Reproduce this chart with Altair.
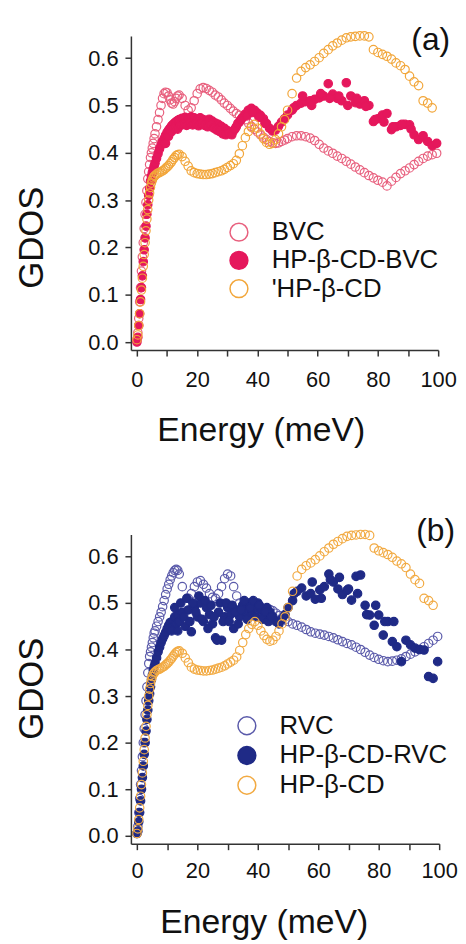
import altair as alt
import pandas as pd

FONT = "Liberation Sans"

# Shared energy grid (meV)
E_GRID = [0.0, 0.3, 0.6, 0.9, 1.2, 1.5, 1.8, 2.1, 2.4, 2.7,
          3.0, 3.3, 3.6, 3.9, 4.2, 4.5, 4.8, 5.1, 5.4, 5.7,
          6.0, 6.5, 7.0, 7.5, 8.0, 8.5, 9.0, 9.5, 10.0, 10.5,
          11.0, 11.5, 12.0, 12.5, 13.0, 13.5, 14.0, 15, 16, 17,
          18, 19, 20, 21, 22, 23, 24, 25, 26, 27,
          28, 29, 30, 31, 32, 33, 34, 35, 36, 37,
          38, 39, 40, 41, 42, 43, 44, 45, 46, 47,
          48, 49, 50, 51.5, 53, 54.5, 56, 57.5, 59, 60.5,
          62, 63.5, 65, 66.5, 68, 69.5, 71, 72.5, 74, 75.5,
          77, 78.5, 80, 81.5, 83, 84.5, 86, 87.5, 89, 90.5,
          92, 93.5, 95, 96.5, 98, 99.5]

BVC = [0.005, 0.02, 0.05, 0.085, 0.115, 0.15, 0.18, 0.21, 0.24, 0.27,
       0.295, 0.32, 0.345, 0.36, 0.375, 0.39, 0.40, 0.41, 0.42, 0.43,
       0.44, 0.455, 0.47, 0.485, 0.50, 0.515, 0.525, 0.528, 0.527, 0.52,
       0.512, 0.505, 0.503, 0.508, 0.515, 0.52, 0.522, 0.515, 0.50, 0.49,
       0.495, 0.51, 0.525, 0.535, 0.538, 0.536, 0.532, 0.528, 0.522, 0.518,
       0.512, 0.505, 0.50, 0.494, 0.488, 0.483, 0.479, 0.475, 0.47, 0.463,
       0.456, 0.45, 0.444, 0.438, 0.433, 0.428, 0.424, 0.421, 0.42, 0.421,
       0.424, 0.427, 0.43, 0.434, 0.436, 0.436, 0.434, 0.431, 0.426, 0.418,
       0.41, 0.404, 0.399, 0.393, 0.388, 0.382, 0.376, 0.37, 0.364, 0.358,
       0.352, 0.347, 0.342, 0.338, 0.33, 0.34, 0.348, 0.356, 0.362, 0.368,
       0.375, 0.382, 0.388, 0.393, 0.396, 0.399]

HPCD_BVC = [0.0, 0.01, 0.035, 0.06, 0.09, 0.115, 0.14, 0.17, 0.195, 0.22,
            0.245, 0.27, 0.29, 0.31, 0.325, 0.34, 0.35, 0.358, 0.365, 0.372,
            0.378, 0.388, 0.398, 0.408, 0.416, 0.424, 0.43, 0.437, 0.443, 0.448,
            0.452, 0.457, 0.46, 0.463, 0.466, 0.468, 0.47, 0.473, 0.475, 0.472,
            0.476, 0.474, 0.471, 0.474, 0.47, 0.468, 0.471, 0.467, 0.463, 0.46,
            0.456, 0.452, 0.447, 0.443, 0.446, 0.455, 0.465, 0.474, 0.482, 0.49,
            0.494, 0.49, 0.484, 0.479, 0.472, 0.462, 0.452, 0.446, 0.448, 0.456,
            0.465, 0.472, 0.48, 0.49, 0.5, 0.505, 0.508, 0.51, 0.513, 0.516,
            0.52, 0.546, 0.524, 0.515, 0.51, 0.548, 0.52, 0.506, 0.503, 0.51,
            0.5, 0.466, 0.472, 0.48, 0.483, 0.449, 0.455, 0.458, 0.46, 0.459,
            0.438, 0.428, 0.436, 0.424, 0.415, 0.42]
HPCD_BVC_EXTRA_E = [9.5, 10.5, 11.5, 12.5, 13.5, 14.5, 15.5, 16.5, 17.5, 18.5,
                    19.5, 20.5, 21.5, 22.5, 23.5, 24.5, 25.5, 26.5, 27.5, 28.5,
                    29.5, 30.5, 31.5, 32.5, 33.5, 34.5, 36.5, 38.5, 40.5, 42.5,
                    52, 55, 58, 61, 64, 67, 70, 73, 76, 79, 82, 85, 88, 91]
HPCD_BVC_EXTRA_G = [0.42, 0.435, 0.445, 0.452, 0.45, 0.458, 0.46, 0.458, 0.462, 0.459,
                    0.46, 0.457, 0.462, 0.458, 0.455, 0.46, 0.452, 0.448, 0.445, 0.44,
                    0.438, 0.442, 0.438, 0.45, 0.462, 0.47, 0.478, 0.485, 0.475, 0.462,
                    0.495, 0.52, 0.5, 0.525, 0.515, 0.52, 0.5, 0.515, 0.498, 0.47,
                    0.465, 0.455, 0.46, 0.45]

HPCD = [0.005, 0.015, 0.035, 0.06, 0.085, 0.11, 0.135, 0.16, 0.185, 0.21,
        0.235, 0.26, 0.28, 0.30, 0.315, 0.327, 0.336, 0.342, 0.347, 0.35,
        0.352, 0.355, 0.357, 0.358, 0.36, 0.362, 0.364, 0.367, 0.37, 0.373,
        0.377, 0.381, 0.386, 0.39, 0.394, 0.396, 0.397, 0.392, 0.382, 0.372,
        0.362, 0.358, 0.356, 0.355, 0.354, 0.354, 0.355, 0.356, 0.358, 0.36,
        0.362, 0.365, 0.369, 0.373, 0.377, 0.384, 0.398, 0.415, 0.432, 0.445,
        0.454, 0.46, 0.452, 0.44, 0.43, 0.422, 0.418, 0.42, 0.428, 0.44,
        0.455, 0.47, 0.49, 0.525, 0.558, 0.572, 0.58, 0.586, 0.593, 0.601,
        0.61, 0.618, 0.626, 0.632, 0.638, 0.643, 0.645, 0.646, 0.647, 0.647,
        0.645, 0.618, 0.612, 0.608, 0.604, 0.598, 0.59, 0.584, 0.576, 0.562,
        0.55, 0.542, 0.51, 0.505, 0.495, None]

RVC = [0.005, 0.02, 0.05, 0.08, 0.11, 0.14, 0.17, 0.2, 0.23, 0.26,
       0.29, 0.32, 0.35, 0.37, 0.385, 0.395, 0.405, 0.415, 0.425, 0.435,
       0.44, 0.45, 0.46, 0.47, 0.48, 0.492, 0.505, 0.518, 0.53, 0.54,
       0.55, 0.558, 0.565, 0.57, 0.572, 0.57, 0.562, 0.535, 0.5, 0.51,
       0.52, 0.535, 0.545, 0.548, 0.54, 0.532, 0.52, 0.512, 0.51, 0.52,
       0.535, 0.552, 0.562, 0.558, 0.535, 0.515, 0.5, 0.495, 0.493, 0.49,
       0.488, 0.49, 0.492, 0.49, 0.488, 0.487, 0.486, 0.483, 0.478, 0.473,
       0.468, 0.464, 0.46, 0.455, 0.452, 0.448, 0.443, 0.438, 0.435, 0.433,
       0.431, 0.428, 0.425, 0.421, 0.417, 0.413, 0.41, 0.405, 0.4, 0.394,
       0.388, 0.383, 0.379, 0.376, 0.374, 0.375, 0.377, 0.38, 0.385, 0.39,
       0.395, 0.4, 0.406, 0.413, 0.42, 0.428]

HPCD_RVC = [0.005, 0.01, 0.03, 0.05, 0.075, 0.1, 0.125, 0.15, 0.175, 0.2,
            0.225, 0.25, 0.27, 0.29, 0.305, 0.32, 0.335, 0.345, 0.355, 0.363,
            0.37, 0.382, 0.395, 0.405, 0.415, 0.423, 0.43, 0.437, 0.445, 0.452,
            0.458, 0.448, 0.462, 0.47, 0.455, 0.475, 0.46, 0.48, 0.45, 0.485,
            0.438, 0.49, 0.47, 0.5, 0.46, 0.49, 0.475, 0.455, 0.425, 0.48,
            0.42, 0.47, 0.49, 0.475, 0.445, 0.485, 0.47, 0.495, 0.48, 0.5,
            0.475, 0.49, 0.5, 0.485, 0.47, 0.49, 0.48, 0.47, 0.46, 0.455,
            0.465, 0.475, 0.49, 0.505, 0.525, 0.532, 0.515, 0.52, 0.508, 0.528,
            0.535, 0.562, 0.545, 0.53, 0.518, 0.527, 0.506, 0.557, 0.56, 0.495,
            0.474, 0.452, 0.474, 0.431, 0.46, 0.417, 0.406, 0.374, 0.42, 0.41,
            0.403, 0.4, 0.399, 0.342, 0.338, 0.374]
HPCD_RVC_EXTRA_E = [11.5, 12.5, 13.5, 14.5, 15.5, 16.5, 17.5, 18.5, 19.5, 20.5,
                    21.5, 22.5, 23.5, 24.5, 25.5, 26.5, 27.5, 28.5, 29.5, 30.5,
                    31.5, 32.5, 33.5, 34.5, 35.5, 36.5, 37.5, 38.5, 39.5, 40.5,
                    41.5, 42.5, 43.5, 44.5, 52, 58, 61, 64, 67, 70, 73, 76, 79, 82, 85]
HPCD_RVC_EXTRA_G = [0.44, 0.49, 0.44, 0.5, 0.47, 0.51, 0.46, 0.5, 0.48, 0.515,
                    0.465, 0.505, 0.445, 0.495, 0.47, 0.42, 0.5, 0.46, 0.5, 0.46,
                    0.495, 0.48, 0.455, 0.485, 0.505, 0.465, 0.49, 0.505, 0.47, 0.495,
                    0.465, 0.48, 0.46, 0.47, 0.52, 0.545, 0.51, 0.55, 0.555, 0.53,
                    0.52, 0.475, 0.495, 0.46, 0.46]

A_LABELS = ["BVC", "HP-\u03b2-CD-BVC", "'HP-\u03b2-CD"]
B_LABELS = ["\u00a0RVC", "HP-\u03b2-CD-RVC", "\u00a0HP-\u03b2-CD"]
A_STROKES = ["#e8607e", "#e5175c", "#f2a63a"]
A_FILLS = ["transparent", "#e5175c", "transparent"]
B_STROKES = ["#5a5aaa", "#1f2a86", "#f2aa42"]
B_FILLS = ["transparent", "#1f2a86", "transparent"]

X_TICKS = [0, 10, 20, 30, 40, 50, 60, 70, 80, 90, 100]
Y_TICKS = [0.0, 0.1, 0.2, 0.3, 0.4, 0.5, 0.6]


def rows(label, xs, ys):
    return [{"E": x, "G": y, "series": label} for x, y in zip(xs, ys) if y is not None]


df_a = pd.DataFrame(rows(A_LABELS[0], E_GRID, BVC)
                    + rows(A_LABELS[1], E_GRID, HPCD_BVC)
                    + rows(A_LABELS[1], HPCD_BVC_EXTRA_E, HPCD_BVC_EXTRA_G)
                    + rows(A_LABELS[2], E_GRID, HPCD))
df_b = pd.DataFrame(rows(B_LABELS[0], E_GRID, RVC)
                    + rows(B_LABELS[1], E_GRID, HPCD_RVC)
                    + rows(B_LABELS[1], HPCD_RVC_EXTRA_E, HPCD_RVC_EXTRA_G)
                    + rows(B_LABELS[2], E_GRID, HPCD))


def panel(df, labels, strokes, fills, w, h, tag, tag_x, tag_y,
          leg_x, leg_y, row_pad, xt_x, xt_y, yt_x, yt_y, xlab_pad):
    legend = alt.Legend(orient="none", legendX=leg_x, legendY=leg_y, title=None,
                        labelFont=FONT, labelFontSize=26, labelColor="#111",
                        labelOffset=20, labelLimit=400, symbolSize=324,
                        symbolStrokeWidth=1.5, rowPadding=row_pad, padding=0)
    pts = alt.Chart(df).mark_point(shape="circle", size=72, strokeWidth=1.2,
                                   opacity=1).encode(
        x=alt.X("E:Q", scale=alt.Scale(domain=[-2, 100], nice=False, zero=False),
                axis=alt.Axis(values=X_TICKS,
                              labelExpr="datum.value % 20 === 0 ? datum.label : ''",
                              format="d", title="Energy (meV)", titleFont=FONT,
                              titleFontSize=34, titleFontWeight="normal",
                              titleColor="#111", titleX=xt_x, titleY=xt_y,
                              titleAlign="center", titleBaseline="alphabetic",
                              labelFont=FONT, labelFontSize=22, labelColor="#111",
                              labelPadding=xlab_pad, tickSize=6, tickWidth=1.5,
                              tickColor="#333", domainColor="#333", domainWidth=1.5,
                              grid=False, labelFlush=False, labelOverlap=False)),
        y=alt.Y("G:Q", scale=alt.Scale(domain=[-0.017, 0.647], nice=False, zero=False),
                axis=alt.Axis(values=Y_TICKS, format=".1f", title="GDOS",
                              titleFont=FONT, titleFontSize=35,
                              titleFontWeight="normal", titleColor="#111",
                              titleX=yt_x, titleY=yt_y, titleAngle=-90,
                              titleAlign="center", titleBaseline="alphabetic",
                              labelFont=FONT, labelFontSize=22, labelColor="#111",
                              labelPadding=7, tickSize=6, tickWidth=1.5,
                              tickColor="#333", domainColor="#333", domainWidth=1.5,
                              grid=False, labelOverlap=False)),
        stroke=alt.Stroke("series:N", scale=alt.Scale(domain=labels, range=strokes),
                          legend=legend),
        fill=alt.Fill("series:N", scale=alt.Scale(domain=labels, range=fills),
                      legend=legend),
    )
    txt = alt.Chart(pd.DataFrame({"t": [tag]})).mark_text(
        font=FONT, fontSize=32, align="right", baseline="alphabetic", color="#111"
    ).encode(text="t:N", x=alt.value(tag_x), y=alt.value(tag_y))
    return alt.layer(pts, txt).properties(width=w, height=h)


pa = panel(df_a, A_LABELS, A_STROKES, A_FILLS, 310, 317, "(a)", 322, 14,
           96, 185, 2.5, 131, 91, -89, 203, 14)
pb = panel(df_b, B_LABELS, B_STROKES, B_FILLS, 311, 312, "(b)", 327, 7,
           104, 180, 4, 134, 90, -89, 155, 11)

chart = alt.vconcat(pa, pb, spacing=186, bounds="flush").resolve_scale(
    x="independent", y="independent", stroke="independent", fill="independent"
).resolve_legend(stroke="independent", fill="independent").properties(
    padding={"left": 6, "top": 12, "right": 0, "bottom": 0}, background="white"
).configure_view(stroke=None)

chart.save("out.html", embed_options={"renderer": "svg", "actions": False})
